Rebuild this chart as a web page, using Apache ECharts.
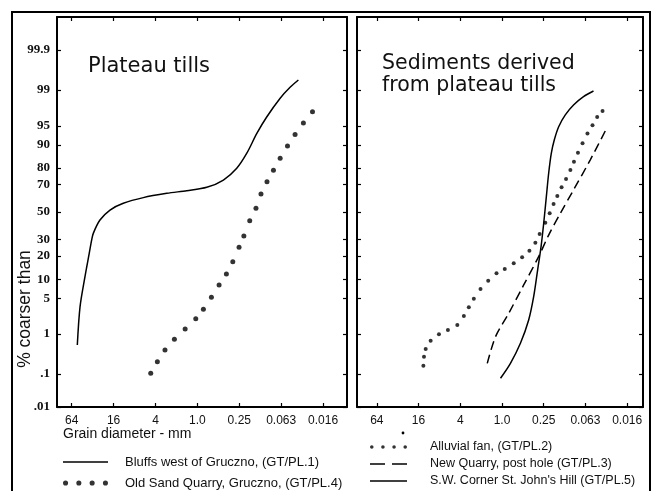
<!DOCTYPE html>
<html>
<head>
<meta charset="UTF-8">
<title>Plateau tills - grain size</title>
<script src="https://cdn.jsdelivr.net/npm/echarts@6.0.0/dist/echarts.min.js"></script>
<style>
  html, body { margin: 0; padding: 0; background: #fff; }
  #chart1 { width: 657px; height: 491px; }
</style>
</head>
<body>
<div id="chart1"></div>
<script type="text/javascript">
// axis ticks: grain diameter (mm) and cumulative % coarser than
var xTickMm = [64, 16, 4, 1, 0.25, 0.0625, 0.015625];
var xTickText = ['64', '16', '4', '1.0', '0.25', '0.063', '0.016'];
var yTickPct = [0.01, 0.1, 1, 5, 10, 20, 30, 50, 70, 80, 90, 95, 99, 99.9];
var yTickText = ['.01', '.1', '1', '5', '10', '20', '30', '50', '70', '80', '90', '95', '99', '99.9'];

// left panel - plateau tills
var bluffsMm  = [53.1, 48.5, 41.2, 35.8, 33.0, 31.3, 25.1, 18.0, 11.6, 5.98, 2.75, 1.42, 0.733, 0.423, 0.272, 0.195, 0.140, 0.101, 0.0647, 0.0466, 0.0354];
var bluffsPct = [0.56, 3.55, 10.9, 21.5, 29.7, 34.2, 43.9, 51.5, 56.6, 60.8, 63.9, 65.8, 68.1, 72.9, 79.8, 86.9, 93.3, 96.5, 98.5, 99.13, 99.41];
var oldSandMm  = [4.68, 3.76, 2.92, 2.14, 1.50, 1.055, 0.820, 0.629, 0.488, 0.383, 0.310, 0.252, 0.215, 0.177, 0.144, 0.122, 0.100, 0.0808, 0.0647, 0.0508, 0.0395, 0.0300, 0.0222];
var oldSandPct = [0.105, 0.216, 0.426, 0.761, 1.28, 2.09, 3.18, 5.19, 8.20, 11.86, 17.16, 25.05, 32.35, 43.4, 52.8, 63.4, 71.8, 78.7, 84.7, 89.6, 93.0, 95.5, 97.2];

// right panel - sediments derived from plateau tills
var alluvialMm  = [13.62, 13.35, 12.62, 10.70, 8.12, 6.03, 4.41, 3.55, 3.01, 2.55, 2.04, 1.58, 1.20, 0.912, 0.677, 0.512, 0.402, 0.330, 0.286, 0.237, 0.205, 0.180, 0.159, 0.138, 0.119, 0.103, 0.0915, 0.0801, 0.0688, 0.0584, 0.0494, 0.0423, 0.0354];
var alluvialPct = [0.169, 0.289, 0.449, 0.705, 0.982, 1.22, 1.56, 2.36, 3.45, 4.91, 7.09, 9.51, 12.12, 13.85, 16.4, 19.4, 23.0, 27.9, 33.7, 41.9, 49.0, 56.1, 62.0, 68.1, 73.5, 78.8, 83.1, 87.1, 90.5, 93.3, 95.1, 96.5, 97.3];
var newQuarryMm  = [1.63, 1.24, 0.799, 0.486, 0.296, 0.212, 0.144, 0.0928, 0.0534, 0.0306];
var newQuarryPct = [0.195, 0.87, 2.67, 8.2, 19.7, 33.0, 49.0, 66.3, 83.9, 94.6];
var swCornerMm  = [1.05, 0.755, 0.542, 0.412, 0.349, 0.306, 0.273, 0.250, 0.229, 0.212, 0.194, 0.176, 0.152, 0.122, 0.0928, 0.0666, 0.0478];
var swCornerPct = [0.076, 0.195, 0.614, 1.97, 5.31, 13.4, 25.4, 41.5, 61.5, 77.0, 86.9, 91.5, 94.8, 96.8, 97.94, 98.61, 98.95];

var S1 = 'Bluffs west of Gruczno, (GT/PL.1)';
var S4 = 'Old Sand Quarry, Gruczno, (GT/PL.4)';
var S2 = 'Alluvial fan, (GT/PL.2)';
var S3 = 'New Quarry, post hole (GT/PL.3)';
var S5 = "S.W. Corner St. John's Hill (GT/PL.5)";

// inverse normal cdf (probability paper), Acklam's approximation
function probit(p) {
	var a = [-3.969683028665376e+01, 2.209460984245205e+02, -2.759285104469687e+02, 1.383577518672690e+02, -3.066479806614716e+01, 2.506628277459239e+00];
	var b = [-5.447609879822406e+01, 1.615858368580409e+02, -1.556989798598866e+02, 6.680131188771972e+01, -1.328068155288572e+01];
	var c = [-7.784894002430293e-03, -3.223964580411365e-01, -2.400758276161838e+00, -2.549671348283185e+00, 4.374664141464968e+00, 2.938163982698783e+00];
	var d = [7.784695709041462e-03, 3.224671290700398e-01, 2.445134137142996e+00, 3.754408661907416e+00];
	var q, r;
	if (p < 0.02425) {
		q = Math.sqrt(-2 * Math.log(p));
		return (((((c[0]*q+c[1])*q+c[2])*q+c[3])*q+c[4])*q+c[5]) / ((((d[0]*q+d[1])*q+d[2])*q+d[3])*q+1);
	}
	if (p > 1 - 0.02425) {
		q = Math.sqrt(-2 * Math.log(1 - p));
		return -(((((c[0]*q+c[1])*q+c[2])*q+c[3])*q+c[4])*q+c[5]) / ((((d[0]*q+d[1])*q+d[2])*q+d[3])*q+1);
	}
	q = p - 0.5; r = q * q;
	return (((((a[0]*r+a[1])*r+a[2])*r+a[3])*r+a[4])*r+a[5])*q / (((((b[0]*r+b[1])*r+b[2])*r+b[3])*r+b[4])*r+1);
}
function phi(mm) { return -Math.log(mm) / Math.LN2; }
function zOf(pct) { return probit(pct / 100); }
function pairs(mm, pct) {
	return mm.map(function (m, i) { return [phi(m), zOf(pct[i])]; });
}

var xTickPos = xTickMm.map(phi);
var yTickPos = yTickPct.map(zOf);
var yMin = zOf(0.01), yMax = -yMin;

function pick(pos, text, v) {
	for (var i = 0; i < pos.length; i++) {
		if (Math.abs(pos[i] - v) < 1e-6) return text[i];
	}
	return '';
}

function xAxisCfg(grid, min, max, position, withLabels) {
	return {
		type: 'value', gridIndex: grid, position: position, min: min, max: max,
		axisLine: { onZero: false, lineStyle: { color: '#000', width: 2 } },
		axisTick: { show: true, inside: true, length: 4, customValues: xTickPos, lineStyle: { color: '#000', width: 1.2 } },
		axisLabel: {
			show: withLabels, customValues: xTickPos, margin: 8,
			color: '#111', fontFamily: 'Liberation Sans', fontSize: 12,
			formatter: function (v) { return pick(xTickPos, xTickText, v); }
		},
		splitLine: { show: false }
	};
}
function yAxisCfg(grid, position, withLabels) {
	return {
		type: 'value', gridIndex: grid, position: position, min: yMin, max: yMax,
		axisLine: { onZero: false, lineStyle: { color: '#000', width: 2 } },
		axisTick: { show: true, inside: true, length: 4, customValues: yTickPos, lineStyle: { color: '#000', width: 1.2 } },
		axisLabel: {
			show: withLabels, customValues: yTickPos, margin: 7,
			color: '#111', fontFamily: 'Liberation Serif', fontSize: 13, fontWeight: 'bold',
			formatter: function (v) { return pick(yTickPos, yTickText, v); }
		},
		splitLine: { show: false }
	};
}

// legend samples
var dotsBig = 'path://M0,2.5a2.5,2.5 0 1 0 5,0a2.5,2.5 0 1 0 -5,0zM13,2.5a2.5,2.5 0 1 0 5,0a2.5,2.5 0 1 0 -5,0zM26,2.5a2.5,2.5 0 1 0 5,0a2.5,2.5 0 1 0 -5,0zM39,2.5a2.5,2.5 0 1 0 5,0a2.5,2.5 0 1 0 -5,0z';
var dotsSmall = 'path://M0,1.8a1.8,1.8 0 1 0 3.6,0a1.8,1.8 0 1 0 -3.6,0zM11.2,1.8a1.8,1.8 0 1 0 3.6,0a1.8,1.8 0 1 0 -3.6,0zM22.4,1.8a1.8,1.8 0 1 0 3.6,0a1.8,1.8 0 1 0 -3.6,0zM33.6,1.8a1.8,1.8 0 1 0 3.6,0a1.8,1.8 0 1 0 -3.6,0z';
var lineBig = 'path://M0,0H45V1.6H0Z';
var lineSmall = 'path://M0,0H37V1.6H0Z';
var dashSmall = 'path://M0,0H15V1.6H0ZM22,0H37V1.6H22Z';

var chart1 = echarts.init(document.getElementById('chart1'), null, { renderer: 'canvas' });
var option = {
	backgroundColor: '#fff',
	animation: false,
	title: [
		{ text: 'Plateau tills', left: 88, top: 56, padding: 0,
		  textStyle: { fontFamily: 'DejaVu Sans', fontSize: 21, fontWeight: 'normal', color: '#111' } },
		{ text: 'Sediments derived\nfrom plateau tills', left: 382, top: 53, padding: 0,
		  textStyle: { fontFamily: 'DejaVu Sans', fontSize: 20.5, fontWeight: 'normal', color: '#111', lineHeight: 22 } },
		{ text: 'Grain diameter - mm', left: 63, top: 427, padding: 0,
		  textStyle: { fontFamily: 'Liberation Sans', fontSize: 14, fontWeight: 'normal', color: '#111' } }
	],
	grid: [
		{ left: 57, top: 17, width: 290, height: 390 },
		{ left: 357, top: 17, width: 286, height: 390 }
	],
	xAxis: [
		xAxisCfg(0, -6.7, 7.14, 'bottom', true),
		xAxisCfg(0, -6.7, 7.14, 'top', false),
		xAxisCfg(1, -6.95, 6.76, 'bottom', true),
		xAxisCfg(1, -6.95, 6.76, 'top', false)
	],
	yAxis: [
		yAxisCfg(0, 'left', true),
		yAxisCfg(0, 'right', false),
		yAxisCfg(1, 'left', false),
		yAxisCfg(1, 'right', false)
	],
	legend: [
		{ left: 63, top: 455, height: 60, padding: 0, orient: 'vertical', itemWidth: 45, itemHeight: 8, itemGap: 7, selectedMode: false,
		  textStyle: { fontFamily: 'Liberation Sans', fontSize: 13, color: '#111', lineHeight: 14, padding: [0, 0, 0, 12] },
		  data: [{ name: S1, icon: lineBig }, { name: S4, icon: dotsBig }] },
		{ left: 370, top: 440, height: 70, padding: 0, orient: 'vertical', itemWidth: 37, itemHeight: 8, itemGap: 3, selectedMode: false,
		  textStyle: { fontFamily: 'Liberation Sans', fontSize: 12.5, color: '#111', lineHeight: 14, padding: [0, 0, 0, 18] },
		  data: [{ name: S2, icon: dotsSmall }, { name: S3, icon: dashSmall }, { name: S5, icon: lineSmall }] }
	],
	graphic: [
		{ type: 'rect', shape: { x: 12, y: 12, width: 638, height: 500 }, style: { fill: 'none', stroke: '#000', lineWidth: 2 } },
		{ type: 'text', x: 25, y: 309, rotation: Math.PI / 2,
		  style: { text: '% coarser than', font: '17.5px "Liberation Sans"', fill: '#111', align: 'center', verticalAlign: 'middle', textAlign: 'center', textVerticalAlign: 'middle' } },
		{ type: 'circle', shape: { cx: 403, cy: 433, r: 1.4 }, style: { fill: '#000' } }
	],
	series: [
		{ name: S1, type: 'line', xAxisIndex: 0, yAxisIndex: 0, data: pairs(bluffsMm, bluffsPct),
		  smooth: 0.3, symbol: 'none', lineStyle: { color: '#000', width: 1.5 }, itemStyle: { color: '#000' } },
		{ name: S4, type: 'scatter', xAxisIndex: 0, yAxisIndex: 0, data: pairs(oldSandMm, oldSandPct),
		  symbolSize: 5, itemStyle: { color: '#000' } },
		{ name: S2, type: 'scatter', xAxisIndex: 2, yAxisIndex: 2, data: pairs(alluvialMm, alluvialPct),
		  symbolSize: 4, itemStyle: { color: '#000' } },
		{ name: S3, type: 'line', xAxisIndex: 2, yAxisIndex: 2, data: pairs(newQuarryMm, newQuarryPct),
		  smooth: 0.3, symbol: 'none', lineStyle: { color: '#000', width: 1.5, type: [9, 5] }, itemStyle: { color: '#000' } },
		{ name: S5, type: 'line', xAxisIndex: 2, yAxisIndex: 2, data: pairs(swCornerMm, swCornerPct),
		  smooth: 0.3, symbol: 'none', lineStyle: { color: '#000', width: 1.5 }, itemStyle: { color: '#000' } }
	]
};
chart1.setOption(option);
</script>
</body>
</html>
